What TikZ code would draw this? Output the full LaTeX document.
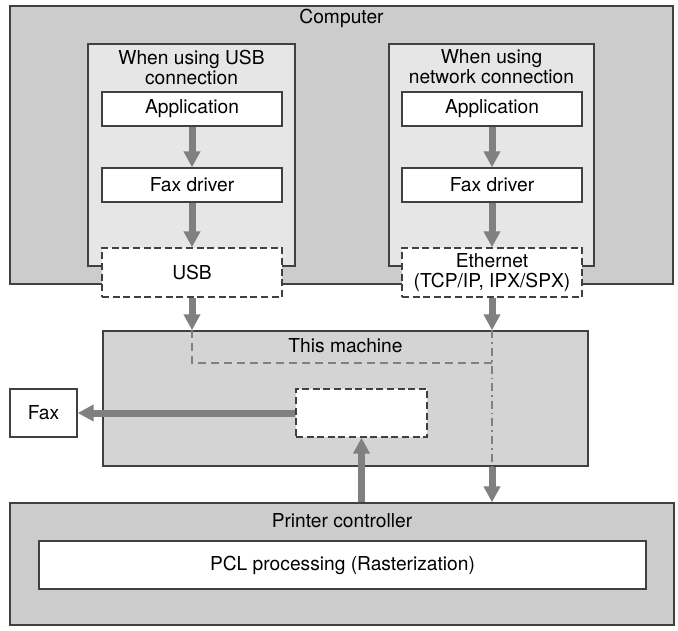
\documentclass[tikz,border=0pt]{standalone}
\usepackage{fontspec}
\setmainfont{TeX Gyre Heros}
\usetikzlibrary{arrows.meta,positioning}
\definecolor{pcgray}{HTML}{CCCCCC}
\definecolor{sidegray}{HTML}{E6E6E6}
\definecolor{mfpgray}{HTML}{D4D4D4}
\definecolor{flowgray}{HTML}{808080}

\begin{document}
\begin{tikzpicture}[x=0.5pt,y=-0.5pt,font=\fontsize{9.6}{10}\selectfont,
                    >={Triangle[width=8pt,length=8pt]}]
  \tikzstyle{box}=[rectangle,draw=black!75,line width=0.7pt,inner sep=0pt]
  \tikzstyle{group}=[box,fill=pcgray]
  \tikzstyle{side}=[box,fill=sidegray]
  \tikzstyle{stepbox}=[box,fill=white,minimum width=90pt,minimum height=17pt]
  \tikzstyle{port}=[box,fill=white,dash pattern=on 3.5pt off 1.8pt,
                    minimum width=90pt,minimum height=24.5pt,align=center]
  \tikzstyle{flow}=[->,draw=flowgray,line width=3.5pt]
  \tikzstyle{route}=[draw=flowgray,line width=0.8pt,dash pattern=on 4pt off 2.5pt]

  \useasboundingbox (0,0) rectangle (678,630);

  % computer side
  \node[group,minimum width=331.5pt,minimum height=139pt] (pc) at (341.5,145) {};
  \node (pctitle) at (341.5,18) {Computer};
  \node[side,minimum width=103.5pt,minimum height=111pt] (usbside) at (191.5,155) {};
  \node[side,minimum width=102.5pt,minimum height=111pt] (netside) at (491.5,155) {};
  \node[align=center] (usbtitle) at (191.5,67) {When using USB\\connection};
  \node[align=center] (nettitle) at (491.5,67) {When using\\network connection};

  \node[stepbox] (app1) at (192,109) {Application};
  \node[stepbox] (drv1) at (192,185) {Fax driver};
  \node[port] (usb)  at (192,272.5) {USB};
  \node[stepbox] (app2) at (492,109) {Application};
  \node[stepbox] (drv2) at (492,185) {Fax driver};
  \node[port] (eth)  at (492,272.5) {Ethernet\\(TCP/IP, IPX/SPX)};

  % this machine
  \node[box,fill=mfpgray,minimum width=242.5pt,minimum height=67.5pt] (mfp) at (345.5,398.5) {};
  \node (mfptitle) at (345.5,346) {This machine};
  \node[port,minimum width=65.5pt,minimum height=24pt] (hub) at (361.5,413) {};
  \node[box,fill=white,minimum width=33.5pt,minimum height=24pt] (fax) at (43.5,413) {Fax};

  % printer controller
  \node[group,minimum width=332pt,minimum height=61pt] (ctrl) at (342,564) {};
  \node (ctrltitle) at (342,521) {Printer controller};
  \node[box,fill=white,minimum width=303.5pt,minimum height=24pt] (pcl) at (342.5,565)
       {PCL processing (Rasterization)};

  \coordinate (join) at (eth.south |- 0,363);

  \draw[route] (usb.south |- mfp.north) |- (join);
  \draw[route,dash pattern=on 4pt off 2pt on 0.8pt off 2pt]
       (eth.south |- mfp.north) -- (eth.south |- mfp.south);

  \path (app1) edge[flow] (drv1)
        (drv1) edge[flow] (usb)
        (app2) edge[flow] (drv2)
        (drv2) edge[flow] (eth)
        (usb.south) edge[flow] (usb.south |- mfp.north)
        (eth.south) edge[flow] (eth.south |- mfp.north)
        (eth.south |- mfp.south) edge[flow] (eth.south |- ctrl.north)
        (hub.south |- ctrl.north) edge[flow] (hub.south)
        (hub.west) edge[flow] (fax.east);
\end{tikzpicture}
\end{document}
